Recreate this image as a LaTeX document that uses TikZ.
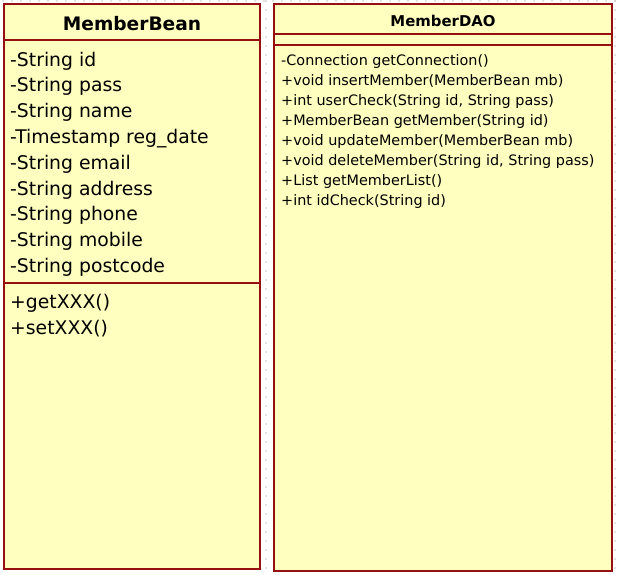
\documentclass[tikz,border=0pt]{standalone}
\usepackage{fontspec}
\setmainfont{DejaVu Sans}
\definecolor{umlfill}{RGB}{255,255,192}
\definecolor{umlline}{RGB}{150,16,16}
\definecolor{griddot}{RGB}{200,200,200}
\begin{document}
\begin{tikzpicture}[x=1pt,y=-1pt,
  classbox/.style={draw=umlline,fill=umlfill,line width=1.6pt},
  divider/.style={draw=umlline,line width=1.2pt},
  beanattr/.style={anchor=base west,inner sep=0pt,font=\fontsize{18.8}{20}\selectfont},
  beantitle/.style={anchor=base,inner sep=0pt,font=\fontsize{18.6}{20}\selectfont\bfseries},
  daoattr/.style={anchor=base west,inner sep=0pt,font=\fontsize{14.4}{15}\selectfont},
  daotitle/.style={anchor=base,inner sep=0pt,font=\fontsize{14.9}{15}\selectfont\bfseries}]
\useasboundingbox (0,0) rectangle (617,574);
\fill[white] (0,0) rectangle (617,574);
% grid dots
\foreach \yy in {1,10,...,574} {
  \fill[griddot] (266,\yy) circle (0.8);
  \fill[griddot] (615,\yy) circle (0.8);
}
\foreach \xx in {3,12,...,617} {
  \fill[griddot] (\xx,1) circle (0.8);
}
% MemberBean
\path[classbox] (4,4) rectangle (260,569);
\draw[divider] (4,40) -- (260,40);
\draw[divider] (4,283) -- (260,283);
\node[beantitle] (bt) at (132,30) {MemberBean};
\node[beanattr] (b1) at (10,66) {-String id};
\node[beanattr] (b2) at (10,91.8) {-String pass};
\node[beanattr] (b3) at (10,117.6) {-String name};
\node[beanattr] (b4) at (10,143.4) {-Timestamp reg\_date};
\node[beanattr] (b5) at (10,169.2) {-String email};
\node[beanattr] (b6) at (10,195) {-String address};
\node[beanattr] (b7) at (10,220.8) {-String phone};
\node[beanattr] (b8) at (10,246.6) {-String mobile};
\node[beanattr] (b9) at (10,272.4) {-String postcode};
\node[beanattr] (m1) at (10,308.5) {+getXXX()};
\node[beanattr] (m2) at (10,334.3) {+setXXX()};
% MemberDAO
\path[classbox] (274,4) rectangle (612,571);
\draw[divider] (274,34) -- (612,34);
\draw[divider] (274,45) -- (612,45);
\node[daotitle] (dt) at (443,26) {MemberDAO};
\node[daoattr] (d1) at (281,65) {-Connection getConnection()};
\node[daoattr] (d2) at (281,85) {+void insertMember(MemberBean mb)};
\node[daoattr] (d3) at (281,105) {+int userCheck(String id, String pass)};
\node[daoattr] (d4) at (281,125) {+MemberBean getMember(String id)};
\node[daoattr] (d5) at (281,145) {+void updateMember(MemberBean mb)};
\node[daoattr] (d6) at (281,165) {+void deleteMember(String id, String pass)};
\node[daoattr] (d7) at (281,185) {+List getMemberList()};
\node[daoattr] (d8) at (281,205) {+int idCheck(String id)};
\end{tikzpicture}
\end{document}
